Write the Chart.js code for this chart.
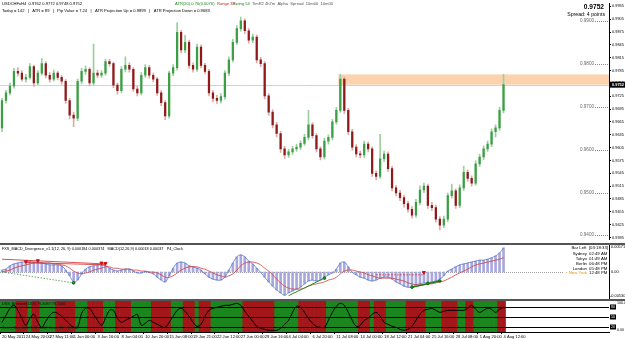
<!DOCTYPE html>
<html>
<head>
<meta charset="utf-8">
<title>USDCHF H4</title>
<script src="https://cdn.jsdelivr.net/npm/chart.js@4/dist/chart.umd.min.js"></script>
<style>
  html, body { margin: 0; padding: 0; background: #fff; }
  #wrap { position: relative; width: 625px; height: 339px; overflow: hidden; }
  canvas { position: absolute; left: 0; }
  #cMain { top: 0; }
  #cMacd { top: 245px; }
  #cOsc { top: 301px; }
  .sep { position: absolute; left: 0; width: 625px; height: 2px; background: #555; }
</style>
</head>
<body>
<div id="wrap">
  <canvas id="cMain" width="625" height="243"></canvas>
  <div class="sep" style="top:243px"></div>
  <canvas id="cMacd" width="625" height="54"></canvas>
  <div class="sep" style="top:299px"></div>
  <canvas id="cOsc" width="625" height="38"></canvas>
</div>
<script>
/* USDCHF H4 — candles, MACD divergence pane, stochastic bars pane */

// ── Data ──────────────────────────────────────────────────────

const timeLabels = ['20 May 2011', '24 May 20:00', '27 May 11:00', '1 Jun 00:00', '3 Jun 16:00', '8 Jun 04:00',
  '10 Jun 20:00', '15 Jun 08:00', '19 Jun 21:00', '22 Jun 12:00', '27 Jun 00:00', '29 Jun 16:00', '4 Jul 04:00',
  '6 Jul 20:00', '11 Jul 08:00', '14 Jul 00:00', '18 Jul 12:00', '21 Jul 04:00', '25 Jul 16:00', '28 Jul 08:00',
  '1 Aug 20:00', '4 Aug 12:00'];

const opens = [
  0.9651, 0.9715, 0.9733, 0.9749, 0.9783, 0.9779, 0.9765, 0.9769, 0.9794, 0.9756,
  0.9779, 0.9801, 0.9774, 0.9765, 0.9779, 0.9769, 0.9760, 0.9715, 0.9681, 0.9674,
  0.9760, 0.9783, 0.9788, 0.9756, 0.9779, 0.9774, 0.9779, 0.9806, 0.9801, 0.9751,
  0.9738, 0.9788, 0.9797, 0.9788, 0.9742, 0.9733, 0.9774, 0.9792, 0.9774, 0.9765,
  0.9733, 0.9710, 0.9679, 0.9779, 0.9792, 0.9874, 0.9833, 0.9851, 0.9797, 0.9788,
  0.9840, 0.9797, 0.9783, 0.9733, 0.9720, 0.9715, 0.9724, 0.9779, 0.9810, 0.9851,
  0.9883, 0.9901, 0.9878, 0.9856, 0.9863, 0.9810, 0.9801, 0.9726, 0.9688, 0.9658,
  0.9638, 0.9602, 0.9588, 0.9595, 0.9602, 0.9606, 0.9615, 0.9629, 0.9658, 0.9633,
  0.9602, 0.9583, 0.9620, 0.9629, 0.9665, 0.9692, 0.9765, 0.9692, 0.9642, 0.9606,
  0.9590, 0.9588, 0.9613, 0.9602, 0.9545, 0.9538, 0.9579, 0.9590, 0.9556, 0.9511,
  0.9499, 0.9488, 0.9474, 0.9461, 0.9447, 0.9477, 0.9506, 0.9515, 0.9470, 0.9465,
  0.9438, 0.9424, 0.9438, 0.9493, 0.9504, 0.9470, 0.9511, 0.9547, 0.9533, 0.9522,
  0.9567, 0.9583, 0.9602, 0.9613, 0.9642, 0.9651, 0.9692
];
const highs = [
  0.9720, 0.9739, 0.9756, 0.9790, 0.9792, 0.9785, 0.9776, 0.9801, 0.9798, 0.9785,
  0.9813, 0.9806, 0.9780, 0.9786, 0.9783, 0.9774, 0.9764, 0.9720, 0.9688, 0.9765,
  0.9790, 0.9796, 0.9792, 0.9847, 0.9786, 0.9785, 0.9812, 0.9811, 0.9805, 0.9756,
  0.9794, 0.9817, 0.9803, 0.9792, 0.9748, 0.9780, 0.9799, 0.9797, 0.9779, 0.9769,
  0.9738, 0.9715, 0.9784, 0.9799, 0.9897, 0.9879, 0.9867, 0.9856, 0.9803, 0.9847,
  0.9845, 0.9802, 0.9788, 0.9738, 0.9727, 0.9731, 0.9785, 0.9817, 0.9858, 0.9890,
  0.9910, 0.9906, 0.9883, 0.9870, 0.9868, 0.9816, 0.9806, 0.9731, 0.9694, 0.9664,
  0.9643, 0.9608, 0.9601, 0.9608, 0.9613, 0.9621, 0.9636, 0.9692, 0.9663, 0.9638,
  0.9607, 0.9627, 0.9635, 0.9671, 0.9699, 0.9776, 0.9770, 0.9697, 0.9648, 0.9612,
  0.9597, 0.9620, 0.9618, 0.9607, 0.9551, 0.9636, 0.9597, 0.9595, 0.9561, 0.9517,
  0.9505, 0.9494, 0.9480, 0.9467, 0.9484, 0.9516, 0.9522, 0.9520, 0.9477, 0.9471,
  0.9444, 0.9445, 0.9499, 0.9520, 0.9509, 0.9518, 0.9562, 0.9553, 0.9539, 0.9574,
  0.9590, 0.9609, 0.9620, 0.9649, 0.9658, 0.9699, 0.9776
];
const lows = [
  0.9642, 0.9709, 0.9728, 0.9744, 0.9772, 0.9760, 0.9758, 0.9765, 0.9748, 0.9752,
  0.9774, 0.9768, 0.9758, 0.9760, 0.9763, 0.9753, 0.9708, 0.9672, 0.9654, 0.9668,
  0.9754, 0.9776, 0.9749, 0.9751, 0.9768, 0.9769, 0.9774, 0.9795, 0.9745, 0.9730,
  0.9733, 0.9782, 0.9781, 0.9736, 0.9726, 0.9728, 0.9769, 0.9767, 0.9759, 0.9727,
  0.9703, 0.9670, 0.9674, 0.9773, 0.9786, 0.9826, 0.9827, 0.9790, 0.9781, 0.9783,
  0.9791, 0.9777, 0.9726, 0.9712, 0.9708, 0.9709, 0.9718, 0.9773, 0.9805, 0.9846,
  0.9877, 0.9871, 0.9849, 0.9850, 0.9803, 0.9794, 0.9719, 0.9680, 0.9651, 0.9630,
  0.9594, 0.9580, 0.9582, 0.9589, 0.9596, 0.9600, 0.9610, 0.9623, 0.9627, 0.9595,
  0.9576, 0.9578, 0.9613, 0.9623, 0.9660, 0.9687, 0.9685, 0.9635, 0.9599, 0.9583,
  0.9581, 0.9582, 0.9595, 0.9538, 0.9530, 0.9533, 0.9573, 0.9549, 0.9504, 0.9492,
  0.9481, 0.9466, 0.9454, 0.9440, 0.9442, 0.9471, 0.9500, 0.9463, 0.9458, 0.9431,
  0.9413, 0.9418, 0.9432, 0.9487, 0.9463, 0.9465, 0.9505, 0.9526, 0.9515, 0.9517,
  0.9561, 0.9577, 0.9596, 0.9607, 0.9630, 0.9645, 0.9686
];
const closes = [
  0.9715, 0.9733, 0.9749, 0.9783, 0.9779, 0.9765, 0.9769, 0.9794, 0.9756, 0.9779,
  0.9801, 0.9774, 0.9765, 0.9779, 0.9769, 0.9760, 0.9715, 0.9681, 0.9674, 0.9760,
  0.9783, 0.9788, 0.9756, 0.9779, 0.9774, 0.9779, 0.9806, 0.9801, 0.9751, 0.9738,
  0.9788, 0.9797, 0.9788, 0.9742, 0.9733, 0.9774, 0.9792, 0.9774, 0.9765, 0.9733,
  0.9710, 0.9679, 0.9779, 0.9792, 0.9874, 0.9833, 0.9851, 0.9797, 0.9788, 0.9840,
  0.9797, 0.9783, 0.9733, 0.9720, 0.9715, 0.9724, 0.9779, 0.9810, 0.9851, 0.9883,
  0.9901, 0.9878, 0.9856, 0.9863, 0.9810, 0.9801, 0.9726, 0.9688, 0.9658, 0.9638,
  0.9602, 0.9588, 0.9595, 0.9602, 0.9606, 0.9615, 0.9629, 0.9658, 0.9633, 0.9602,
  0.9583, 0.9620, 0.9629, 0.9665, 0.9692, 0.9765, 0.9692, 0.9642, 0.9606, 0.9590,
  0.9588, 0.9613, 0.9602, 0.9545, 0.9538, 0.9579, 0.9590, 0.9556, 0.9511, 0.9499,
  0.9488, 0.9474, 0.9461, 0.9447, 0.9477, 0.9506, 0.9515, 0.9470, 0.9465, 0.9438,
  0.9424, 0.9438, 0.9493, 0.9504, 0.9470, 0.9511, 0.9547, 0.9533, 0.9522, 0.9567,
  0.9583, 0.9602, 0.9613, 0.9642, 0.9651, 0.9692, 0.9752
];

const priceTicks = [0.9935, 0.9905, 0.9875, 0.9845, 0.9815, 0.9785, 0.9755, 0.9725, 0.9695, 0.9665,
  0.9635, 0.9605, 0.9575, 0.9545, 0.9515, 0.9485, 0.9455, 0.9425, 0.9395];
const levelLines = [0.9900, 0.9800, 0.9700, 0.9600, 0.9500, 0.9400];
const lastPrice = 0.9752;
const zoneStart = 85;            // bar where the resistance box begins
const zoneTop = 0.9776;
const zoneBottom = 0.9752;

const macdHist = [
  0.0004, 0.0006, 0.0013, 0.0017, 0.0019, 0.0021, 0.0021, 0.0023, 0.0021, 0.0021,
  0.0019, 0.0017, 0.0015, 0.0015, 0.0015, 0.0013, 0.0004, -0.0008, -0.0021, -0.0017,
  -0.0004, 0.0006, 0.0011, 0.0013, 0.0015, 0.0015, 0.0013, 0.0008, 0.0004, 0.0002,
  0.0004, 0.0006, 0.0006, 0.0002, -0.0002, -0.0002, 0.0001, -0.0001, -0.0004, -0.0011,
  -0.0017, -0.0021, -0.0008, 0.0008, 0.0019, 0.0021, 0.0019, 0.0013, 0.0011, 0.0008,
  0.0004, -0.0004, -0.0011, -0.0015, -0.0017, -0.0017, -0.0011, 0.0004, 0.0019, 0.0032,
  0.0036, 0.0032, 0.0023, 0.0017, 0.0008, -0.0001, -0.0011, -0.0021, -0.0030, -0.0038,
  -0.0044, -0.0049, -0.0044, -0.0040, -0.0036, -0.0032, -0.0025, -0.0019, -0.0017, -0.0019,
  -0.0017, -0.0011, -0.0006, -0.0002, 0.0006, 0.0019, 0.0021, 0.0011, -0.0001, -0.0006,
  -0.0011, -0.0013, -0.0017, -0.0019, -0.0017, -0.0013, -0.0011, -0.0011, -0.0015, -0.0021,
  -0.0025, -0.0030, -0.0032, -0.0032, -0.0027, -0.0025, -0.0023, -0.0023, -0.0021, -0.0019,
  -0.0015, -0.0008, 0.0002, 0.0006, 0.0011, 0.0015, 0.0017, 0.0019, 0.0021, 0.0023,
  0.0025, 0.0025, 0.0027, 0.0030, 0.0034, 0.0040, 0.0051
];
const macdSignal = [
  0.0000, 0.0002, 0.0004, 0.0008, 0.0011, 0.0013, 0.0015, 0.0017, 0.0019, 0.0019,
  0.0019, 0.0019, 0.0019, 0.0017, 0.0017, 0.0015, 0.0013, 0.0008, 0.0002, -0.0002,
  -0.0004, -0.0002, 0.0000, 0.0004, 0.0006, 0.0008, 0.0011, 0.0011, 0.0008, 0.0008,
  0.0006, 0.0006, 0.0006, 0.0004, 0.0004, 0.0002, 0.0002, 0.0000, 0.0000, -0.0002,
  -0.0006, -0.0011, -0.0011, -0.0008, -0.0002, 0.0004, 0.0008, 0.0011, 0.0011, 0.0011,
  0.0008, 0.0006, 0.0002, -0.0002, -0.0006, -0.0008, -0.0011, -0.0008, -0.0004, 0.0004,
  0.0013, 0.0019, 0.0021, 0.0021, 0.0019, 0.0015, 0.0008, 0.0002, -0.0006, -0.0015,
  -0.0023, -0.0030, -0.0034, -0.0036, -0.0036, -0.0036, -0.0034, -0.0030, -0.0027, -0.0025,
  -0.0023, -0.0021, -0.0017, -0.0015, -0.0011, -0.0004, 0.0002, 0.0004, 0.0004, 0.0002,
  0.0000, -0.0002, -0.0006, -0.0008, -0.0011, -0.0013, -0.0013, -0.0013, -0.0013, -0.0015,
  -0.0017, -0.0019, -0.0023, -0.0025, -0.0027, -0.0027, -0.0027, -0.0025, -0.0025, -0.0023,
  -0.0021, -0.0019, -0.0015, -0.0011, -0.0006, -0.0002, 0.0002, 0.0006, 0.0011, 0.0015,
  0.0017, 0.0019, 0.0021, 0.0023, 0.0025, 0.0027, 0.0030
];
const macdRange = 0.0057;

// divergence trend lines [barIndex, value]
const divRedA = [[0, 0.0027], [26, 0.0017]];
const divRedB = [[6, 0.0020], [26, 0.0015]];
const divRedFlat = [[94, -0.0006], [106, -0.0006]];
const divGreenDash = [[0, 0.0000], [18, -0.0023]];
const divGreenA = [[72, -0.0050], [81, -0.0013]];
const divGreenB = [[103, -0.0032], [110, -0.0019]];
const redArrows = [[6, 0.0022], [9, 0.0024], [25, 0.0019], [26, 0.0018], [106, -0.0001]];
const greenDots = [[18, -0.0023], [81, -0.0013], [103, -0.0032], [107, -0.0024], [110, -0.0019]];

// 1 = green bar, 0 = red bar
const stripeState = [
  1, 1, 1, 1, 0, 0, 0, 1, 0, 0, 1, 1, 1, 1, 0, 0, 0, 0, 0, 1,
  1, 1, 0, 0, 0, 0, 1, 1, 1, 0, 0, 0, 0, 1, 1, 1, 1, 1, 0, 0,
  0, 0, 0, 1, 1, 1, 0, 0, 0, 1, 0, 0, 0, 1, 1, 1, 1, 1, 1, 1,
  1, 0, 0, 0, 0, 0, 0, 0, 0, 1, 1, 1, 1, 1, 1, 0, 0, 0, 0, 0,
  0, 0, 1, 1, 1, 1, 1, 1, 1, 1, 0, 0, 0, 1, 0, 0, 0, 1, 1, 1,
  1, 1, 0, 0, 0, 0, 0, 1, 1, 1, 1, 0, 0, 0, 0, 1, 1, 0, 0, 1,
  1, 1, 1, 1, 1, 0, 0
];
const oscValues = [
  34, 55, 76, 85, 70, 46, 25, 46, 58, 34, 19, 37, 55, 64, 61, 52, 40, 28, 19, 19,
  61, 76, 76, 58, 40, 25, 46, 70, 70, 46, 34, 40, 46, 52, 58, 25, 31, 40, 34, 28,
  22, 19, 34, 52, 70, 76, 67, 52, 34, 22, 28, 52, 70, 76, 79, 82, 85, 85, 88, 91,
  85, 67, 52, 37, 22, 16, 13, 10, 10, 10, 16, 28, 40, 64, 82, 79, 64, 46, 31, 22,
  19, 19, 40, 64, 82, 91, 85, 64, 40, 22, 25, 40, 46, 58, 64, 52, 34, 28, 22, 19,
  13, 10, 13, 22, 40, 58, 70, 73, 76, 70, 64, 67, 70, 70, 70, 70, 70, 76, 85, 73,
  64, 70, 76, 73, 64, 73, 79
];
const oscLevels = [80, 50, 20];
const oscMin = 5;
const oscMax = 98;

const clockRows = [['Sydney', '02:49 AM'], ['Tokyo', '01:49 AM'], ['Berlin', '06:48 PM'],
  ['London', '05:48 PM'], ['New York', '12:48 PM']];

// ── Shared setup ─────────────────────────────────────────────

const SLOTS = 153;   // bar slots across the pane (empty space to the right of the last bar)
const AXIS_W = 16;
const slotLabels = Array.from({ length: SLOTS }, (_, i) =>
  i % 6 === 0 && i / 6 < timeLabels.length ? timeLabels[i / 6] : '');

const UP = '#3d9f45', DOWN = '#8e1a1a', WICK_UP = '#9ccf9f', WICK_DOWN = '#dcaaaa';
const GREEN = '#1a861d', RED = '#a3161a';

function font(size, bold) {
  return (bold ? 'bold ' : '') + size + 'px "Liberation Sans", Arial, sans-serif';
}

function sparse(points) {
  const arr = new Array(SLOTS).fill(null);
  points.forEach(([i, v]) => { arr[i] = v; });
  return arr;
}

function paneOptions(yOpts, xOpts) {
  return {
    responsive: false,
    animation: false,
    devicePixelRatio: 1,
    layout: { padding: 0, autoPadding: false },
    plugins: { legend: { display: false }, tooltip: { enabled: false } },
    scales: {
      x: xOpts || { display: false, offset: true },
      y: Object.assign({
        position: 'right',
        afterFit: s => { s.width = AXIS_W; },
        border: { color: '#000' }
      }, yOpts)
    }
  };
}

// ── Price pane ───────────────────────────────────────────────

const mainDecor = {
  id: 'mainDecor',
  beforeDatasetsDraw(chart) {
    const { ctx, chartArea: a, scales: { x, y } } = chart;
    const half = (a.right - a.left) / SLOTS / 2;
    ctx.save();
    const zx = x.getPixelForValue(zoneStart) - half;
    const zt = y.getPixelForValue(zoneTop);
    const zb = y.getPixelForValue(zoneBottom);
    ctx.fillStyle = '#fcd3ae';
    ctx.fillRect(zx, zt, a.right - zx, zb - zt);
    const by = Math.round(y.getPixelForValue(lastPrice)) + 0.5;
    ctx.strokeStyle = '#e3d0b4';
    ctx.lineWidth = 1;
    ctx.beginPath(); ctx.moveTo(a.left, by); ctx.lineTo(a.right, by); ctx.stroke();
    ctx.restore();
  },
  afterDraw(chart) {
    const { ctx, chartArea: a, scales: { y } } = chart;
    ctx.save();

    // round-number levels
    ctx.font = font(4.6);
    ctx.textAlign = 'right';
    ctx.textBaseline = 'middle';
    levelLines.forEach(v => {
      const py = Math.round(y.getPixelForValue(v)) + 0.5;
      ctx.strokeStyle = '#6f9f6f';
      ctx.setLineDash([1, 1]);
      ctx.beginPath(); ctx.moveTo(a.right - 14, py); ctx.lineTo(a.right, py); ctx.stroke();
      ctx.fillStyle = '#6a6a6a';
      ctx.fillText(v.toFixed(4), a.right - 15, py - 1);
    });
    ctx.setLineDash([]);

    // current price box on the axis
    const py = y.getPixelForValue(lastPrice);
    ctx.fillStyle = '#000';
    ctx.fillRect(a.right + 1, py - 3, chart.width - a.right - 1, 6);
    ctx.fillStyle = '#fff';
    ctx.font = font(3.9, true);
    ctx.textAlign = 'left';
    ctx.fillText(lastPrice.toFixed(4), a.right + 3, py);

    // top right quote
    ctx.fillStyle = '#000';
    ctx.textAlign = 'right';
    ctx.font = font(6.6, true);
    ctx.fillText('0.9752', a.right - 5, 7);
    ctx.font = font(5.2);
    ctx.fillText('Spread: 4 points', a.right - 4, 15);

    // header lines
    ctx.textAlign = 'left';
    ctx.font = font(4.1);
    const head = [
      ['USDCHFxH4  0.9762 0.9772 0.9748 0.9752', '#000', 2],
      ['ATR(20) 0.76(0.0076)', '#1d8a22', 175],
      ['Range 38', '#d02020', 217],
      ['Swing 54', '#1d8a22', 233],
      ['TimR2 4h7m  Alpha  Spread  10m00  10m00', '#555', 252]
    ];
    head.forEach(([t, c, hx]) => { ctx.fillStyle = c; ctx.fillText(t, hx, 4); });
    ctx.fillStyle = '#000';
    ctx.fillText('Today = 142   |   ATR = 89   |   Pip Value = 7.24   |   ATR Projection Up = 0.9899   |   ATR Projection Down = 0.9683', 2, 10.5);
    ctx.restore();
  }
};

new Chart(document.getElementById('cMain'), {
  type: 'bar',
  data: {
    labels: slotLabels,
    datasets: [
      {
        label: 'Body',
        data: opens.map((o, i) => [o, closes[i]]),
        backgroundColor: opens.map((o, i) => closes[i] >= o ? UP : DOWN),
        barThickness: 1.6,
        minBarLength: 1,
        grouped: false,
        order: 1
      },
      {
        label: 'Range',
        data: lows.map((l, i) => [l, highs[i]]),
        backgroundColor: opens.map((o, i) => closes[i] >= o ? WICK_UP : WICK_DOWN),
        barThickness: 1,
        grouped: false,
        order: 2
      }
    ]
  },
  options: paneOptions({
    min: 0.9390,
    max: 0.9942,
    afterBuildTicks: s => { s.ticks = priceTicks.map(value => ({ value })); },
    ticks: { font: { size: 3.9, family: '"Liberation Sans", Arial' }, color: '#000', padding: 1, callback: v => v.toFixed(4) },
    grid: { drawOnChartArea: false, tickLength: 2, color: '#000' }
  }),
  plugins: [mainDecor]
});

// ── MACD pane ────────────────────────────────────────────────

const macdDecor = {
  id: 'macdDecor',
  beforeDatasetsDraw(chart) {
    const { ctx, chartArea: a, scales: { y } } = chart;
    const zy = Math.round(y.getPixelForValue(0)) + 0.5;
    ctx.save();
    ctx.strokeStyle = '#a0a0a0';
    ctx.setLineDash([1, 1]);
    ctx.beginPath(); ctx.moveTo(a.left, zy); ctx.lineTo(a.right - 45, zy); ctx.stroke();
    ctx.restore();
  },
  afterDraw(chart) {
    const { ctx, chartArea: a, scales: { y } } = chart;
    ctx.save();
    ctx.textBaseline = 'middle';
    ctx.font = font(3.8);
    ctx.fillStyle = '#000';
    ctx.fillText('FXS_MACD_Divergence_v1.1(12, 26, 9) 0.000184 0.000374   MACD(12,26,9) 0.00018 0.00037   P4_Clock', 2, 4);

    // session clock
    ctx.font = font(4.3);
    ctx.textAlign = 'right';
    ctx.fillText('Bar Left  [03:18:33]', a.right - 1, 3);
    clockRows.forEach(([city, time], i) => {
      const ty = 9 + i * 4.8;
      ctx.fillStyle = city === 'New York' ? '#e0900a' : '#000';
      ctx.textAlign = 'right';
      ctx.fillText((city === 'New York' ? '\u2022 ' : '') + city, a.right - 22, ty);
      ctx.fillStyle = '#000';
      ctx.textAlign = 'left';
      ctx.fillText(time, a.right - 20, ty);
    });

    // axis values
    ctx.font = font(3.9);
    ctx.textAlign = 'left';
    ctx.fillStyle = '#000';
    ctx.fillText('0.00571', a.right + 2, y.getPixelForValue(macdRange) + 2);
    ctx.fillText('0.00', a.right + 2, y.getPixelForValue(0));
    ctx.fillText('-0.00530', a.right + 1, y.getPixelForValue(-macdRange) - 3);
    ctx.restore();
  }
};

new Chart(document.getElementById('cMacd'), {
  type: 'bar',
  data: {
    labels: slotLabels,
    datasets: [
      { type: 'line', label: 'Red arrows', data: sparse(redArrows), showLine: false, pointStyle: 'triangle', rotation: 180, pointRadius: 1.8, pointBackgroundColor: '#d01010', pointBorderColor: '#d01010', order: 0 },
      { type: 'line', label: 'Green dots', data: sparse(greenDots), showLine: false, pointRadius: 1.3, pointBackgroundColor: '#1a9a1a', pointBorderColor: '#0d6b0d', order: 0 },
      { type: 'line', label: 'Div red A', data: sparse(divRedA), spanGaps: true, borderColor: '#d02828', borderWidth: 0.8, pointRadius: 0, order: 1 },
      { type: 'line', label: 'Div red B', data: sparse(divRedB), spanGaps: true, borderColor: '#d02828', borderWidth: 0.8, pointRadius: 0, order: 1 },
      { type: 'line', label: 'Div red flat', data: sparse(divRedFlat), spanGaps: true, borderColor: '#d02828', borderWidth: 0.8, borderDash: [1.5, 1.5], pointRadius: 0, order: 1 },
      { type: 'line', label: 'Div green dash', data: sparse(divGreenDash), spanGaps: true, borderColor: '#3a9a3a', borderWidth: 0.8, borderDash: [1.5, 1.5], pointRadius: 0, order: 1 },
      { type: 'line', label: 'Div green A', data: sparse(divGreenA), spanGaps: true, borderColor: '#2a8f2a', borderWidth: 1, pointRadius: 0, order: 1 },
      { type: 'line', label: 'Div green B', data: sparse(divGreenB), spanGaps: true, borderColor: '#1f7a1f', borderWidth: 1.6, pointRadius: 0, order: 1 },
      { type: 'line', label: 'Signal', data: macdSignal, borderColor: '#d43c3c', borderWidth: 0.8, pointRadius: 0, tension: 0.35, order: 2 },
      { type: 'line', label: 'MACD', data: macdHist, borderColor: '#5a78c8', borderWidth: 0.8, pointRadius: 0, tension: 0.35, order: 3 },
      { label: 'Histogram', data: macdHist, backgroundColor: '#a8a8de', barThickness: 2, grouped: false, order: 4 }
    ]
  },
  options: paneOptions({
    min: -macdRange,
    max: macdRange,
    ticks: { display: false },
    grid: { display: false }
  }),
  plugins: [macdDecor]
});

// ── Stochastic bars pane ─────────────────────────────────────

const oscDecor = {
  id: 'oscDecor',
  afterDraw(chart) {
    const { ctx, chartArea: a, scales: { y } } = chart;
    ctx.save();
    ctx.textBaseline = 'middle';
    ctx.font = font(3.8);
    ctx.fillStyle = '#111';
    ctx.fillText('DSS_Bressert(13,8) 76.3087 78.1106', 2, a.top + 3);
    ctx.fillStyle = '#0f3d10';
    ctx.fillText('Stoch_Bars(5,3,3) 82.1082  Level 80 / 50 / 20', 2, a.bottom - 4);

    ctx.font = font(3.6);
    oscLevels.forEach(v => {
      const py = y.getPixelForValue(v);
      ctx.fillStyle = '#000';
      ctx.fillRect(a.right + 1, py - 2.5, 6, 5);
      ctx.fillStyle = '#fff';
      ctx.textAlign = 'center';
      ctx.fillText(String(v), a.right + 4, py);
    });
    ctx.fillStyle = '#000';
    ctx.textAlign = 'left';
    ctx.fillText('100.00', a.right + 8, a.top + 2);
    ctx.fillText('0.00', a.right + 8, a.bottom - 2);
    ctx.restore();
  }
};

new Chart(document.getElementById('cOsc'), {
  type: 'bar',
  data: {
    labels: slotLabels,
    datasets: [
      { type: 'line', label: 'Oscillator', data: oscValues, borderColor: '#000', borderWidth: 1, pointRadius: 0, tension: 0.35, order: 1 },
      {
        label: 'Trend bars',
        data: stripeState.map(() => [oscMin, oscMax]),
        backgroundColor: stripeState.map(s => s ? GREEN : RED),
        barPercentage: 1,
        categoryPercentage: 1,
        order: 2
      }
    ]
  },
  options: paneOptions({
    min: oscMin,
    max: oscMax,
    afterBuildTicks: s => { s.ticks = oscLevels.map(value => ({ value })); },
    ticks: { display: false },
    grid: { drawTicks: false, color: '#000', lineWidth: 1, z: 1 }
  }, {
    offset: true,
    afterFit: s => { s.height = 7; },
    border: { color: '#000' },
    grid: {
      drawOnChartArea: false,
      tickLength: 2,
      color: c => (slotLabels[c.index] ? '#000' : 'rgba(0,0,0,0)')
    },
    ticks: {
      autoSkip: false,
      maxRotation: 0,
      minRotation: 0,
      align: 'start',
      padding: 0,
      color: '#000',
      font: { size: 4.1, family: '"Liberation Sans", Arial' }
    }
  }),
  plugins: [oscDecor]
});
</script>
</body>
</html>
